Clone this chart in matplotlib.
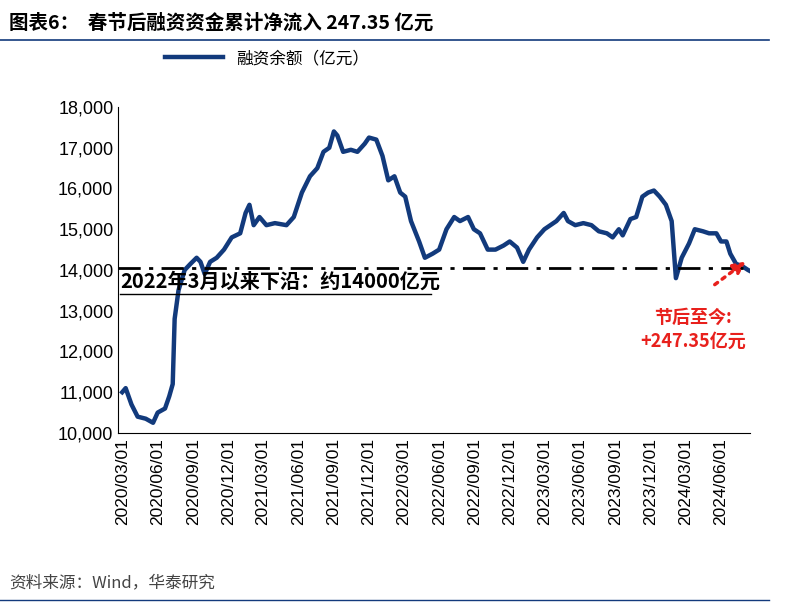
import matplotlib
matplotlib.use("Agg")
import matplotlib.pyplot as plt
import pandas as pd

plt.rcParams['font.family'] = ['Noto Sans CJK SC']

dates = ["2020-03-01","2020-03-10","2020-03-25","2020-04-10","2020-05-01","2020-05-20","2020-06-01","2020-06-20",
"2020-07-01","2020-07-10","2020-07-15","2020-07-25","2020-08-10","2020-08-25","2020-09-10","2020-09-20","2020-10-01",
"2020-10-15","2020-11-01","2020-11-20","2020-12-10","2021-01-01","2021-01-15","2021-01-25","2021-02-05","2021-02-20",
"2021-03-10","2021-04-01","2021-05-01","2021-05-20","2021-06-10","2021-07-01","2021-07-20","2021-08-05","2021-08-20",
"2021-09-01","2021-09-10","2021-09-25","2021-10-15","2021-11-01","2021-11-20","2021-12-01","2021-12-20","2022-01-05",
"2022-01-20","2022-02-05","2022-02-20","2022-03-05","2022-03-20","2022-04-10","2022-04-25","2022-05-15","2022-06-01",
"2022-06-20","2022-07-10","2022-07-25","2022-08-15","2022-08-30","2022-09-15","2022-10-05","2022-10-25","2022-11-15",
"2022-12-01","2022-12-20","2023-01-05","2023-01-20","2023-02-10","2023-03-01","2023-04-01","2023-04-20","2023-05-01",
"2023-05-20","2023-06-10","2023-07-01","2023-07-20","2023-08-10","2023-08-25","2023-09-10","2023-09-20","2023-10-10",
"2023-10-25","2023-11-10","2023-11-25","2023-12-10","2023-12-25","2024-01-10","2024-01-25","2024-02-05","2024-02-20",
"2024-03-10","2024-03-25","2024-04-15","2024-05-01","2024-05-20","2024-06-01","2024-06-15","2024-06-25","2024-07-10",
"2024-07-25","2024-08-10","2024-08-20"]
values = [11000,11100,10700,10400,10350,10250,10500,10600,10900,11200,12800,13500,14000,14150,14300,14200,13900,
14200,14300,14500,14800,14900,15400,15600,15100,15300,15100,15150,15100,15300,15900,16300,16500,16900,17000,
17400,17300,16900,16950,16900,17100,17250,17200,16800,16200,16300,15900,15800,15200,14700,14300,14400,14500,
15000,15300,15200,15300,15000,14900,14500,14500,14600,14700,14550,14200,14500,14800,15000,15200,15400,15200,
15100,15150,15100,14950,14900,14800,15000,14850,15250,15300,15800,15900,15950,15800,15600,15200,13800,14300,
14650,15000,14950,14900,14900,14700,14700,14400,14150,14100,14000,13950]
tick_labels = ["2020/03/01","2020/06/01","2020/09/01","2020/12/01","2021/03/01","2021/06/01","2021/09/01","2021/12/01",
"2022/03/01","2022/06/01","2022/09/01","2022/12/01","2023/03/01","2023/06/01","2023/09/01","2023/12/01","2024/03/01","2024/06/01"]
support_level = 14050

d = pd.to_datetime(dates)
fig = plt.figure(figsize=(7.89, 6.15), dpi=100)
ax = fig.add_axes([0.15, 0.296, 0.8, 0.53])
ax.plot(d, values, color="#123A7C", lw=3.2)
ax.axhline(support_level, color="black", lw=2, ls=(0, (8, 3, 1.5, 3)))
ax.set_ylim(10000, 18000)
ax.set_yticks(range(10000, 18001, 1000))
ax.set_yticklabels([f"{v:,}" for v in range(10000, 18001, 1000)], fontsize=13, fontfamily="Liberation Sans")
tk = pd.to_datetime([t.replace("/", "-") for t in tick_labels])
ax.set_xticks(tk)
ax.set_xticklabels(tick_labels, rotation=90, fontsize=12.5, fontfamily="Liberation Sans")
ax.set_xlim(pd.Timestamp("2020-02-20"), pd.Timestamp("2024-08-14"))
for s in ["top", "right"]:
    ax.spines[s].set_visible(False)
ax.tick_params(axis="x", direction="in", length=0)
ax.tick_params(axis="y", direction="in", length=0)
ax.text(pd.Timestamp("2020-02-25"), 13720, "2022年3月以来下沿：约14000亿元", fontsize=14.5, fontweight="bold",
        va="center")
ax.plot([pd.Timestamp("2020-02-25"), pd.Timestamp("2022-05-10")], [13400, 13400], color="black", lw=1)
ax.annotate("", xy=(pd.Timestamp("2024-08-10"), 14250), xytext=(pd.Timestamp("2024-05-10"), 13600),
            arrowprops=dict(arrowstyle="-|>", color="#E8201C", lw=2.5, ls=":", mutation_scale=18))
ax.text(pd.Timestamp("2024-03-20"), 12550, "节后至今:\n+247.35亿元", color="#E8201C", fontsize=13,
        fontweight="bold", ha="center", va="center", linespacing=1.3)

ax.legend(["融资余额（亿元）"], loc="upper left", bbox_to_anchor=(0.05, 1.22), frameon=False, fontsize=12,
          handlelength=3.5)
fig.text(0.012, 0.962, "图表6：  春节后融资资金累计净流入 247.35 亿元", fontsize=14, fontweight="bold", va="center")
fig.add_artist(plt.Line2D([0.0, 0.975], [0.935, 0.935], color="#123A7C", lw=1.2))
fig.add_artist(plt.Line2D([0.0, 0.975], [0.025, 0.025], color="#123A7C", lw=1))
fig.text(0.012, 0.038, "资料来源：Wind，华泰研究", fontsize=12, color="#444444", va="bottom")
fig.savefig("out.png", dpi=100)
